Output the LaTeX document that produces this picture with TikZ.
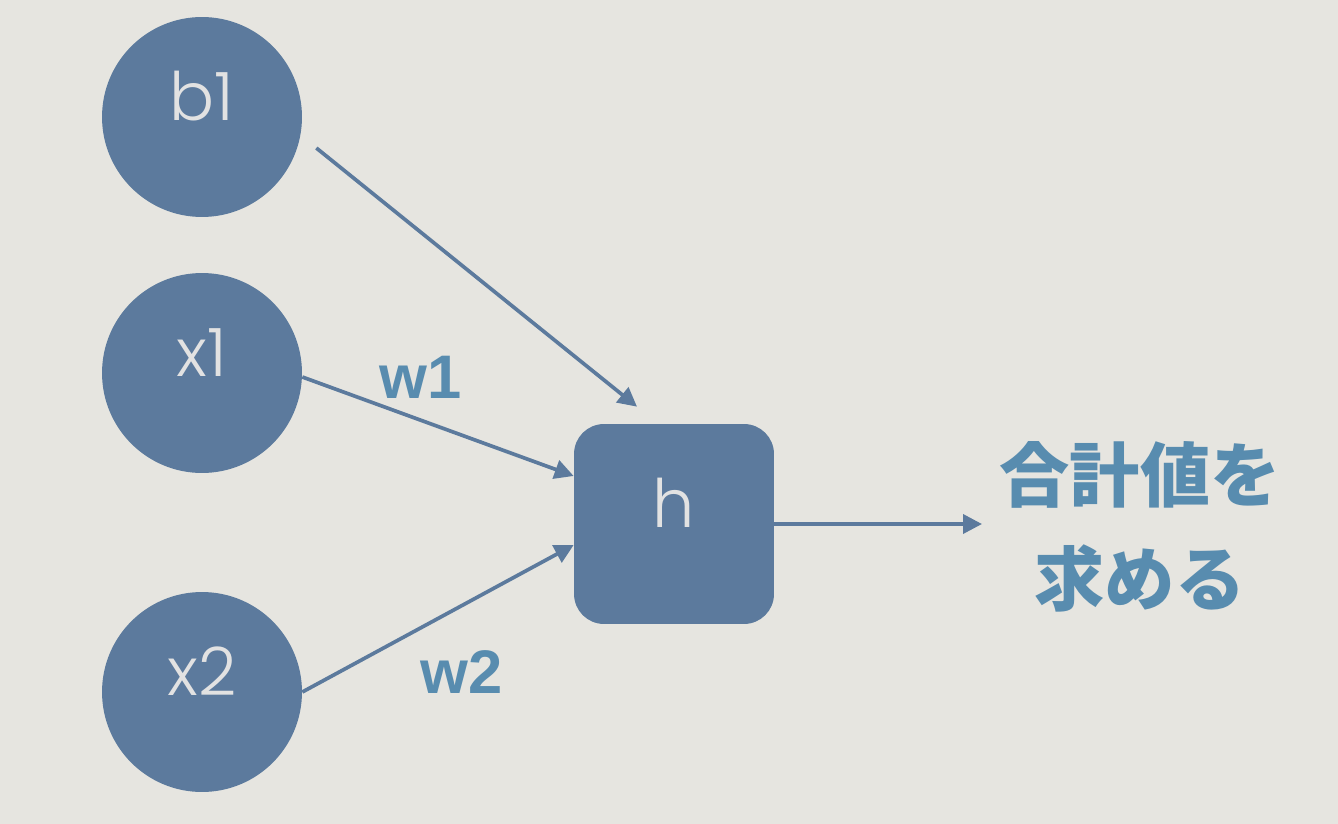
\documentclass[tikz,border=0pt]{standalone}
\usepackage{fontspec}
\setmainfont{Liberation Sans}
\newfontfamily\lightfont{Poppins Light}
\newfontfamily\jpfont{Noto Sans CJK JP}
\usetikzlibrary{arrows.meta}
\definecolor{paper}{RGB}{230,229,224}
\definecolor{unitblue}{RGB}{92,122,157}
\definecolor{weightblue}{RGB}{88,140,175}
\definecolor{unittext}{RGB}{226,226,226}
\begin{document}
\begin{tikzpicture}[x=0.02cm,y=-0.02cm,
	unit/.style={circle,fill=unitblue,minimum size=4cm,inner sep=0pt,text=unittext,
		font=\lightfont\fontsize{38}{40}\selectfont,text height=0.72em,text depth=0.3em},
	sumbox/.style={rectangle,rounded corners=0.6cm,fill=unitblue,minimum size=4cm,inner sep=0pt,
		text=unittext,font=\lightfont\fontsize{38}{40}\selectfont,text height=0.75em,text depth=0.32em},
	weight/.style={text=weightblue,font=\bfseries\fontsize{35}{36}\selectfont},
	link/.style={draw=unitblue,line width=2.1pt,-{Triangle[length=0.38cm,width=0.38cm]}}]
	\fill [paper] (0,0) rectangle (1338,824);
	\node [unit] (b1) at (202,117) {b1};
	\node [unit] (x1) at (202,373) {x1};
	\node [unit] (x2) at (202,692) {x2};
	\node [sumbox] (h) at (674,524) {h};
	\coordinate (out) at (982,524);
	\node [text=weightblue,font=\jpfont\bfseries\fontsize{40}{59.5}\selectfont,align=center] (total) at (1140,527) {合計値を\\求める};
	\node [weight] (w1) at (421,377) {w1};
	\node [weight] (w2) at (462,672) {w2};
	\draw [link] ([shift={(14,31)}]b1.east) -- ([shift={(-37,-17)}]h.north);
	\draw [link] ([shift={(0,4)}]x1.east) -- ([shift={(0,-48)}]h.west);
	\draw [link] (x2.east) -- ([shift={(0,21)}]h.west);
	\draw [link] (h.east) -- (out);
\end{tikzpicture}
\end{document}
